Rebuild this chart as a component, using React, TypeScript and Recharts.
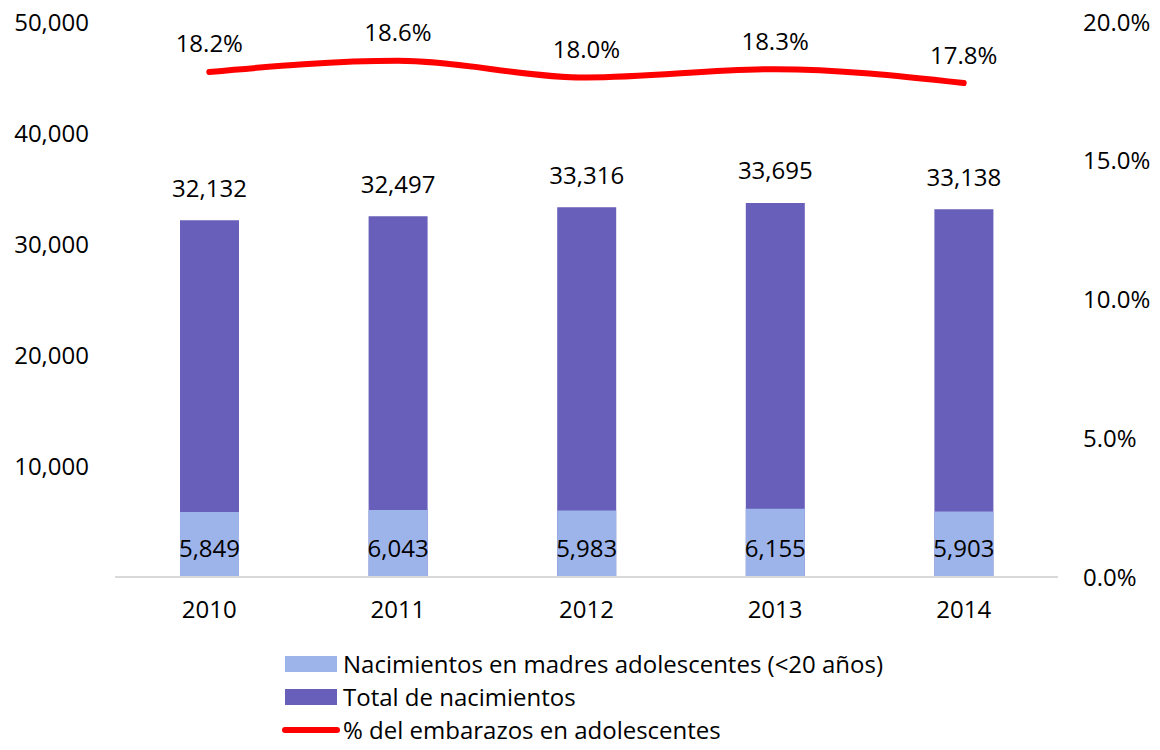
import { ComposedChart, Bar, Line, XAxis, YAxis, LabelList } from 'recharts';

const years = ['2010', '2011', '2012', '2013', '2014'];
const adolescentes = [5849, 6043, 5983, 6155, 5903];
const totales = [32132, 32497, 33316, 33695, 33138];
const porcentajes = [18.2, 18.6, 18.0, 18.3, 17.8];
const leftTicks = [10000, 20000, 30000, 40000, 50000];
const rightTicks = [0, 5, 10, 15, 20];

const data = years.map((year, i) => ({
  year,
  adolescentes: adolescentes[i],
  total: totales[i],
  pct: porcentajes[i],
}));

const FONT = '"Open Sans", sans-serif';
const LIGHT = '#9db4ea';
const DARK = '#675fb9';
const RED = '#ff0000';

const fmt = (v: number) => v.toLocaleString('en-US');

const TotalLabel = (props: any) => {
  const { x, y, width, value } = props;
  return (
    <text x={x + width / 2} y={y - 33} textAnchor="middle" dominantBaseline="central" fill="#000" fontSize={24} fontFamily={FONT}>
      {fmt(value)}
    </text>
  );
};

const AdolLabel = (props: any) => {
  const { x, y, width, height, value } = props;
  return (
    <text x={x + width / 2} y={y + height - 30} textAnchor="middle" dominantBaseline="central" fill="#000" fontSize={24} fontFamily={FONT}>
      {fmt(value)}
    </text>
  );
};

const PctLabel = (props: any) => {
  const { x, y, value } = props;
  return (
    <text x={x} y={y - 29} textAnchor="middle" dominantBaseline="central" fill="#000" fontSize={24} fontFamily={FONT}>
      {value.toFixed(1)}%
    </text>
  );
};

const legendItems = [
  { label: 'Nacimientos en madres adolescentes (<20 años)', color: LIGHT, type: 'rect' },
  { label: 'Total de nacimientos', color: DARK, type: 'rect' },
  { label: '% del embarazos en adolescentes', color: RED, type: 'line' },
];

const ChartLegend = () => (
  <div style={{ position: 'absolute', left: 282, top: 647, fontFamily: FONT, fontSize: 24, color: '#000', lineHeight: '24px' }}>
    {legendItems.map((item) => (
      <div key={item.label} style={{ display: 'flex', alignItems: 'center', height: 33 }}>
        {item.type === 'rect' ? (
          <span style={{ display: 'inline-block', width: 52, height: 16, background: item.color, margin: '0 6px 0 3px' }} />
        ) : (
          <span style={{ display: 'inline-block', width: 58, height: 6, borderRadius: 3, background: item.color, marginRight: 3 }} />
        )}
        <span style={{ lineHeight: '24px' }}>{item.label}</span>
      </div>
    ))}
  </div>
);

export default function App() {
  return (
    <div style={{ position: 'absolute', left: 0, top: 0, width: 1160, height: 750, background: '#fff', overflow: 'hidden' }}>
      <ComposedChart
        width={1160}
        height={750}
        data={data}
        margin={{ top: 22, right: 0, left: 0, bottom: 173 - 40 }}
        barGap={-59}
      >
        <XAxis
          dataKey="year"
          height={40}
          tickLine={false}
          tickSize={0}
          tickMargin={24}
          axisLine={{ stroke: '#d9d9d9', strokeWidth: 2 }}
          tick={{ fill: '#000', fontSize: 24, fontFamily: FONT }}
        />
        <YAxis
          yAxisId="left"
          orientation="left"
          width={115}
          domain={[0, 50000]}
          ticks={leftTicks}
          tickFormatter={fmt}
          axisLine={false}
          tickLine={false}
          tickSize={0}
          tickMargin={26}
          tick={{ fill: '#000', fontSize: 24, fontFamily: FONT }}
        />
        <YAxis
          yAxisId="right"
          orientation="right"
          width={102}
          domain={[0, 20]}
          ticks={rightTicks}
          tickFormatter={(v: number) => `${v.toFixed(1)}%`}
          axisLine={false}
          tickLine={false}
          tickSize={0}
          tickMargin={25}
          tick={{ fill: '#000', fontSize: 24, fontFamily: FONT, textAnchor: 'start' }}
        />
        <Bar yAxisId="left" dataKey="total" fill={DARK} barSize={59} isAnimationActive={false} name="Total de nacimientos">
          <LabelList dataKey="total" content={<TotalLabel />} />
        </Bar>
        <Bar yAxisId="left" dataKey="adolescentes" fill={LIGHT} barSize={59} isAnimationActive={false} name="Nacimientos en madres adolescentes (<20 años)">
          <LabelList dataKey="adolescentes" content={<AdolLabel />} />
        </Bar>
        <Line
          yAxisId="right"
          type="monotone"
          dataKey="pct"
          stroke={RED}
          strokeWidth={6}
          strokeLinecap="round"
          dot={false}
          isAnimationActive={false}
          name="% del embarazos en adolescentes"
        >
          <LabelList dataKey="pct" content={<PctLabel />} />
        </Line>
      </ComposedChart>
      <ChartLegend />
    </div>
  );
}
